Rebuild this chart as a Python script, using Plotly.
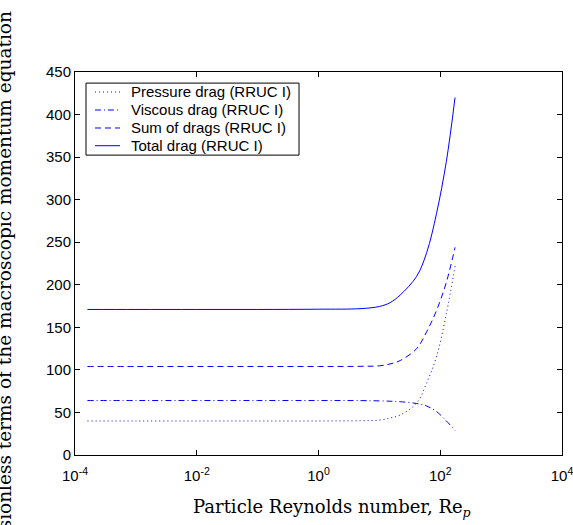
import plotly.graph_objects as go

# Particle Reynolds number (x) and the four drag terms
re_p = [1.6e-4, 1e-3, 1e-2, 1e-1, 1, 5, 10, 15, 22, 41, 60, 87, 126, 175]
pressure = [40, 40, 40, 40, 40, 40.3, 41, 43.5, 47, 61, 85, 116, 166, 222]
viscous = [64, 64, 64, 64, 64, 63.9, 63.6, 63.2, 62.6, 60.5, 57.5, 51, 40, 29]
sum_drags = [104, 104, 104, 104, 104, 104.2, 104.8, 107, 111, 125, 145, 170, 203, 244]
total = [171, 171, 171, 171, 171.3, 172, 174.5, 179, 188, 210, 238, 284, 345, 420]

x_tickvals = [1e-4, 1e-2, 1, 1e2, 1e4]
x_ticktext = ["10<sup>-4</sup>", "10<sup>-2</sup>", "10<sup>0</sup>",
              "10<sup>2</sup>", "10<sup>4</sup>"]
y_tickvals = [0, 50, 100, 150, 200, 250, 300, 350, 400, 450]

blue = "rgb(0,0,255)"
sans = "Liberation Sans, Arial"
serif = "DejaVu Serif"

series = [
    ("Pressure drag (RRUC I)", pressure, "1px,3px"),
    ("Viscous drag (RRUC I)", viscous, "6px,3px,1px,3px"),
    ("Sum of drags (RRUC I)", sum_drags, "6px,4px"),
    ("Total drag (RRUC I)", total, "solid"),
]

fig = go.Figure()

for name, vals, dash in series:
    fig.add_trace(go.Scatter(
        x=re_p, y=vals, name=name, mode="lines", showlegend=False,
        line=dict(color=blue, width=1, dash=dash, shape="spline"),
    ))

# -----------------------------
# legend drawn by hand (MATLAB style, tight rows)
# -----------------------------
fig.add_shape(type="rect", xref="paper", yref="paper",
              x0=0.0226, x1=0.46, y0=0.783, y1=0.971,
              line=dict(color="black", width=1), fillcolor="white", layer="above")

row_y = [0.9478, 0.9008, 0.8538, 0.8076]
for (name, vals, dash), ry in zip(series, row_y):
    fig.add_shape(type="line", xref="paper", yref="paper",
                  x0=0.041, x1=0.0924, y0=ry, y1=ry,
                  line=dict(color=blue, width=1, dash=dash), layer="above")
    fig.add_annotation(text=name, xref="paper", yref="paper", x=0.1109, y=ry,
                       xanchor="left", yanchor="middle", showarrow=False,
                       font=dict(family=sans, size=15, color="black"))

axis_common = dict(
    showline=True, linecolor="black", linewidth=1, mirror="ticks",
    ticks="inside", ticklen=5, tickcolor="black", showgrid=False,
    zeroline=False, automargin=False, ticklabeloverflow="allow",
    tickfont=dict(family=sans, size=15, color="black"),
)

fig.update_xaxes(type="log", range=[-4, 4], tickvals=x_tickvals,
                 ticktext=x_ticktext, ticklabelstandoff=7, **axis_common)
fig.update_yaxes(range=[0, 450], tickvals=y_tickvals, **axis_common)

fig.add_annotation(
    text="Particle Reynolds number, Re<sub><i>p</i></sub>",
    xref="paper", yref="paper", x=0.527, y=-0.138,
    xanchor="center", yanchor="middle", showarrow=False,
    font=dict(family=serif, size=18, color="black"),
)

fig.add_annotation(
    text="Dimensionless terms of the macroscopic momentum equation",
    xref="paper", yref="paper", x=-0.144, y=0.403, textangle=-90,
    showarrow=False, font=dict(family=serif, size=18.5, color="black"),
    xanchor="center", yanchor="middle",
)

fig.update_layout(
    width=573, height=525,
    margin=dict(l=75, r=11, t=72, b=70),
    plot_bgcolor="white", paper_bgcolor="white",
)

# page body has a default 8px margin; drop it so the figure sits at 0,0
fig.write_html("out.html", config={"displayModeBar": False},
               post_script="document.body.style.margin='0';")
